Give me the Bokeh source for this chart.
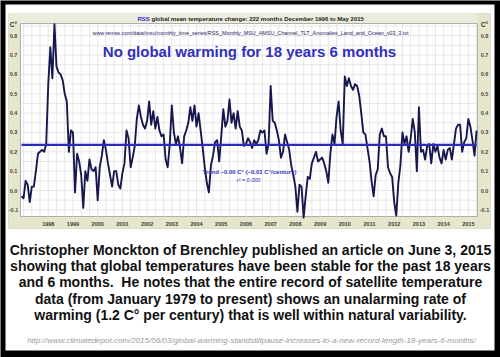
import pandas as pd
from bokeh.plotting import figure
from bokeh.models import Range1d
from bokeh.embed import file_html
from bokeh.resources import INLINE
from bokeh.core.properties import value

# ---------------- data (RSS TLT anomalies, C°) ----------------
first_month = "1996-12"
temps_1996 = [-0.03]
temps_1997 = [-0.04, 0.05, 0.03, -0.06, 0.02, 0.02, 0.10, 0.19, 0.20, 0.21, 0.20, 0.24]
temps_1998 = [0.55, 0.74, 0.58, 0.86, 0.64, 0.61, 0.60, 0.57, 0.50, 0.46, 0.20, 0.31]
temps_1999 = [0.30, -0.01, 0.19, 0.15, 0.08, -0.09, 0.10, 0.05, 0.16, 0.11, 0.10, 0.12]
temps_2000 = [-0.05, 0.12, 0.18, 0.26, 0.21, 0.14, 0.08, 0.02, 0.10, 0.10, 0.03, 0.01]
temps_2001 = [0.09, 0.14, 0.31, 0.27, 0.12, 0.17, 0.23, 0.37, 0.44, 0.38, 0.34, 0.32]
temps_2002 = [0.36, 0.46, 0.34, 0.41, 0.32, 0.38, 0.31, 0.28, 0.29, 0.16, 0.12, 0.24]
temps_2003 = [0.44, 0.30, 0.24, 0.28, 0.22, 0.14, 0.28, 0.31, 0.35, 0.43, 0.36, 0.44]
temps_2004 = [0.33, 0.40, 0.31, 0.22, 0.12, 0.04, -0.01, 0.13, 0.18, 0.25, 0.26, 0.15]
temps_2005 = [0.28, 0.42, 0.33, 0.36, 0.47, 0.35, 0.40, 0.32, 0.41, 0.33, 0.31, 0.23]
temps_2006 = [0.24, 0.27, 0.25, 0.22, 0.26, 0.24, 0.26, 0.31, 0.30, 0.31, 0.19, 0.24]
temps_2007 = [0.54, 0.36, 0.35, 0.31, 0.26, 0.17, 0.20, 0.29, 0.25, 0.21, 0.13, 0.08]
temps_2008 = [0.02, -0.11, 0.03, 0.02, -0.14, -0.03, 0.07, 0.06, 0.14, 0.17, 0.20, 0.15]
temps_2009 = [0.16, 0.17, 0.14, 0.10, 0.04, 0.19, 0.29, 0.24, 0.38, 0.46, 0.31, 0.24]
temps_2010 = [0.59, 0.54, 0.58, 0.54, 0.52, 0.55, 0.54, 0.49, 0.40, 0.30, 0.29, 0.22]
temps_2011 = [0.15, 0.05, -0.03, 0.08, 0.11, 0.29, 0.32, 0.28, 0.28, 0.12, 0.09, 0.07]
temps_2012 = [-0.06, -0.13, 0.04, 0.13, 0.30, 0.24, 0.28, 0.20, 0.27, 0.37, 0.30, 0.10]
temps_2013 = [0.43, 0.20, 0.21, 0.16, 0.23, 0.24, 0.14, 0.24, 0.20, 0.23, 0.17, 0.14]
temps_2014 = [0.21, 0.16, 0.21, 0.22, 0.16, 0.24, 0.32, 0.34, 0.34, 0.20, 0.25, 0.27]
temps_2015 = [0.37, 0.33, 0.26, 0.18, 0.31]

trend_level = [0.236, 0.236]          # least-squares trend, flat (-0.00 C°)

year_ticks = list(range(1998, 2016))
year_labels = [str(y) for y in year_ticks]
temp_ticks = [0.8, 0.7, 0.6, 0.5, 0.4, 0.3, 0.2, 0.1, 0.0, -0.1]
temp_labels = ["0.8", "0.7", "0.6", "0.5", "0.4", "0.3", "0.2", "0.1", "0.0", "-0.1"]

title_rss = "RSS"
title_rest = "global mean temperature change: 222 months December 1996 to May 2015"
source_url = ("www.remss.com/data/msu/monthly_time_series/"
              "RSS_Monthly_MSU_AMSU_Channel_TLT_Anomalies_Land_and_Ocean_v03_3.txt")
headline = "No global warming for 18 years 6 months"
trend_text = "Trend \u20130.00 C\u00b0 (\u20130.01 C\u00b0/century)"
r2_text = "r\u00b2 = 0.000"
caption_lines = [
    "Christopher Monckton of Brenchley published an article on June 3, 2015",
    "showing that global temperatures have been stable for the past 18 years",
    "and 6 months.\u00a0 He notes that the entire record of satellite temperature",
    "data (from January 1979 to present) shows an unalarming rate of",
    "warming (1.2 C\u00b0 per century) that is well within natural variability.",
]
article_url = ("http://www.climatedepot.com/2015/06/03/global-warming-standstillpause-"
               "increases-to-a-new-record-length-18-years-6-months/")

temps = (temps_1996 + temps_1997 + temps_1998 + temps_1999 + temps_2000 + temps_2001
         + temps_2002 + temps_2003 + temps_2004 + temps_2005 + temps_2006 + temps_2007
         + temps_2008 + temps_2009 + temps_2010 + temps_2011 + temps_2012 + temps_2013
         + temps_2014 + temps_2015)
months = pd.period_range(first_month, periods=len(temps), freq="M")
t_months = [m.year + (m.month - 1) / 12.0 for m in months]

# ---------------- canvas geometry (pixel -> data helpers) ----------------
W, H = 500, 357
T0, PX0, PPY = 1996 + 11 / 12.0, 21.0, 24.71      # Dec 1996 sits at x=21 px
PY0, PPV = 190.0, 193.5                            # 0.0 C° sits at y=190 px


def tx(px):
    return T0 + (px - PX0) / PPY


def vy(py):
    return (PY0 - py) / PPV


p = figure(width=W, height=H, output_backend="svg", toolbar_location=None,
           x_range=Range1d(tx(0), tx(W)), y_range=Range1d(vy(H), vy(0)),
           x_axis_location=None, y_axis_location=None, min_border=0)
p.outline_line_color = None
p.grid.visible = False
p.background_fill_color = "black"
p.border_fill_color = "black"

# white page inside black border
p.quad(left=[tx(5)], right=[tx(494)], top=[vy(4)], bottom=[vy(350)],
       fill_color="white", line_color=None)
# beige chart frame
p.quad(left=[tx(8)], right=[tx(490)], top=[vy(13)], bottom=[vy(228)],
       fill_color="#e6e6cc", line_color="#d0d0b0", line_width=0.6)
p.quad(left=[tx(8)], right=[tx(477)], top=[vy(13)], bottom=[vy(23)],
       fill_color="#ececdc", line_color=None)
# plot area
PL, PR, PT, PB = 20, 477, 23, 216
p.quad(left=[tx(PL)], right=[tx(PR)], top=[vy(PT)], bottom=[vy(PB)],
       fill_color="white", line_color="#9a9a9a", line_width=0.8)

# grid lines
h_grid = [v / 100.0 for v in range(-10, 86, 5)]
p.segment(x0=[tx(PL)] * len(h_grid), x1=[tx(PR)] * len(h_grid), y0=h_grid, y1=h_grid,
          line_color="#dedede", line_width=0.7)
v_grid = [1997 + k / 3.0 for k in range(0, 56) if 1997 + k / 3.0 < tx(PR)]
p.segment(x0=v_grid, x1=v_grid, y0=[vy(PT)] * len(v_grid), y1=[vy(PB)] * len(v_grid),
          line_color="#dedede", line_width=0.7)

FONT = value("Liberation Sans")


def txt(xs, ys, texts, size, color="#000000", style="bold", align="center"):
    p.text(x=xs, y=ys, text=texts, text_font=FONT, text_font_size=value(size),
           text_font_style=value(style), text_color=color, text_align=align,
           text_baseline="middle")


# tick labels
txt([tx(13)] * len(temp_ticks), temp_ticks, temp_labels, "5.5px", "#4a4a4a")
txt([tx(484)] * len(temp_ticks), temp_ticks, temp_labels, "5.5px", "#4a4a4a")
txt([tx(13), tx(484)], [vy(24), vy(24)], ["C\u00b0", "C\u00b0"], "6.5px", "#333333")
txt(year_ticks, [vy(223)] * len(year_ticks), year_labels, "5.5px", "#3a3a3a")

# data line and trend
p.line(t_months, temps, line_color="#17174f", line_width=1.9, line_join="round")
p.line([t_months[0], t_months[-1]], trend_level, line_color="#2b2bbd", line_width=2.4)

# chart texts
txt([tx(137)], [vy(18)], [title_rss], "6px", "#2b2bcc", align="left")
txt([tx(151)], [vy(18)], [title_rest], "6px", "#222222", align="left")
txt([tx(250)], [vy(32)], [source_url], "5.4px", "#1d1d66", style="normal")
txt([tx(249)], [vy(51)], [headline], "15px", "#3030bb")
txt([tx(249)], [vy(171)], [trend_text], "6px", "#3838c0")
txt([tx(248)], [vy(179)], [r2_text], "5.5px", "#3838c0", style="italic")

# caption
cap_y = [249, 265.5, 281.8, 298.2, 314.5]
txt([tx(250)] * len(caption_lines), [vy(y) for y in cap_y], caption_lines, "14px", "#111111")
txt([tx(251)], [vy(340)], [article_url], "8px", "#9a9a9a", style="italic")

open("out.html", "w").write(file_html(p, INLINE))
